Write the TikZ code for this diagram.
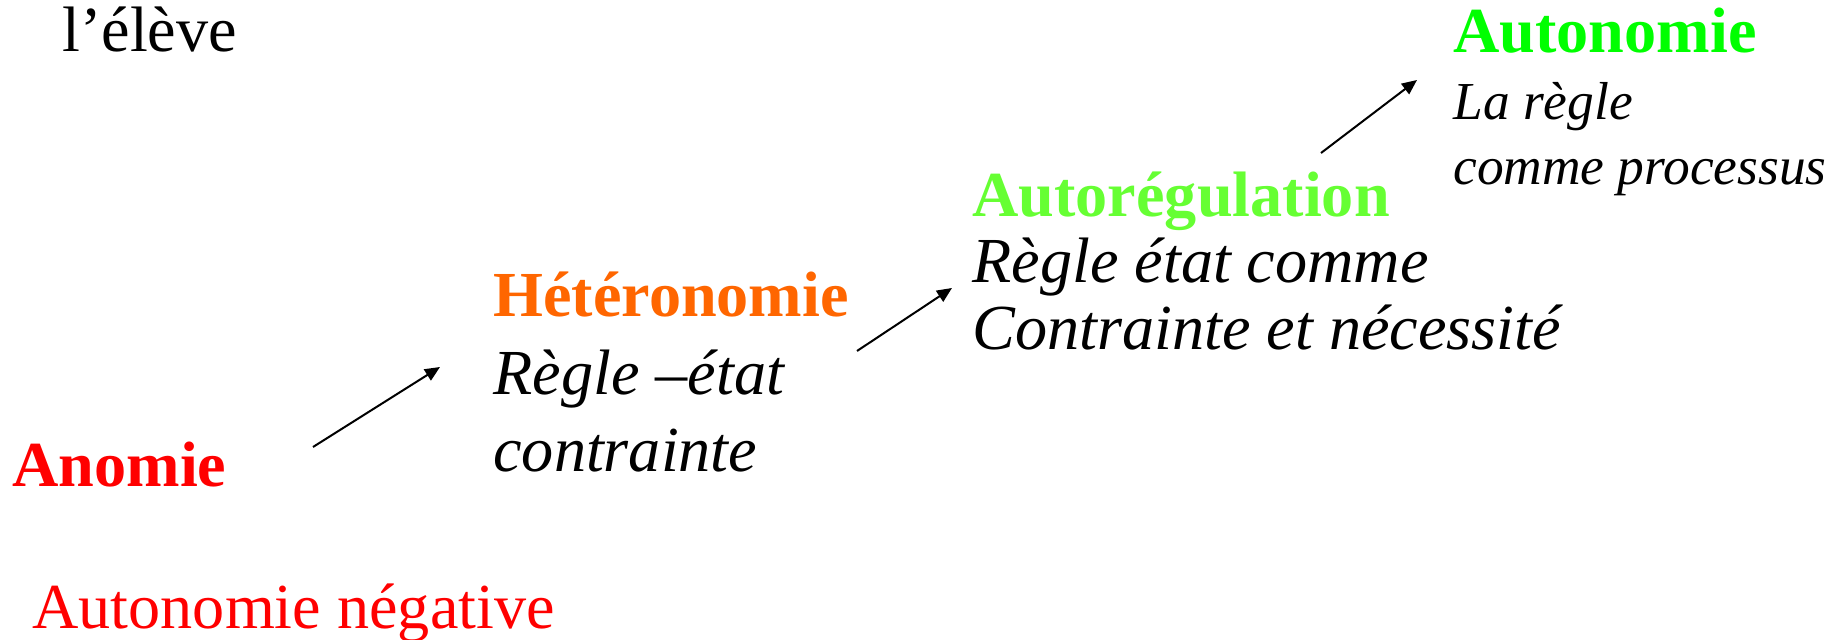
\documentclass[tikz,border=0pt]{standalone}
\usepackage{fontspec}
\setmainfont{Liberation Serif}
\usetikzlibrary{arrows.meta}
\definecolor{anomred}{HTML}{FF0000}
\definecolor{heteroorange}{HTML}{FF6600}
\definecolor{autoreggreen}{HTML}{66FF33}
\definecolor{autongreen}{HTML}{00FF00}
\newcommand{\bigtext}{\fontsize{32.1}{38}\selectfont}
\newcommand{\smalltext}{\fontsize{26.7}{32}\selectfont}
\begin{document}
\begin{tikzpicture}[
  x=0.5pt, y=-0.5pt,
  every node/.style={inner sep=0pt, anchor=base west},
  stage/.style={font=\bigtext\bfseries},
  rule/.style={font=\bigtext\itshape},
  smallrule/.style={font=\smalltext\itshape},
  arrow/.style={-{Triangle[length=7.5pt,width=6.5pt]}, line width=1pt}
]
\useasboundingbox (0,0) rectangle (1841,640);
\node (eleve) at (62,52) {\bigtext l’élève};
% left column
\node[stage, text=anomred] (anomie) at (12,487) {Anomie};
\node[text=anomred] (autoneg) at (32,628) {\bigtext Autonomie négative};
% middle
\node[stage, text=heteroorange] (hetero) at (493,317) {Hétéronomie};
\node[rule] (heteroA) at (493,395) {Règle –état};
\node[rule] (heteroB) at (493,472) {contrainte};
\node[stage, text=autoreggreen] (autoreg) at (972,217) {Autorégulation};
\node[rule] (autoregA) at (972,283) {Règle état comme};
\node[rule] (autoregB) at (972,350) {Contrainte et nécessité};
% right
\node[stage, text=autongreen] (auton) at (1453,53) {Autonomie};
\node[smallrule] (autonA) at (1453,120) {La règle};
\node[smallrule] (autonB) at (1453,185) {comme processus};
% arrows
\coordinate (up1s) at (313,447);
\coordinate (up1e) at (440,367);
\coordinate (up2s) at (857,351);
\coordinate (up2e) at (952,288);
\coordinate (up3s) at (1321,153);
\coordinate (up3e) at (1417,80);
\draw[arrow] (up1s) -- (up1e);
\draw[arrow] (up2s) -- (up2e);
\draw[arrow] (up3s) -- (up3e);
\end{tikzpicture}
\end{document}
